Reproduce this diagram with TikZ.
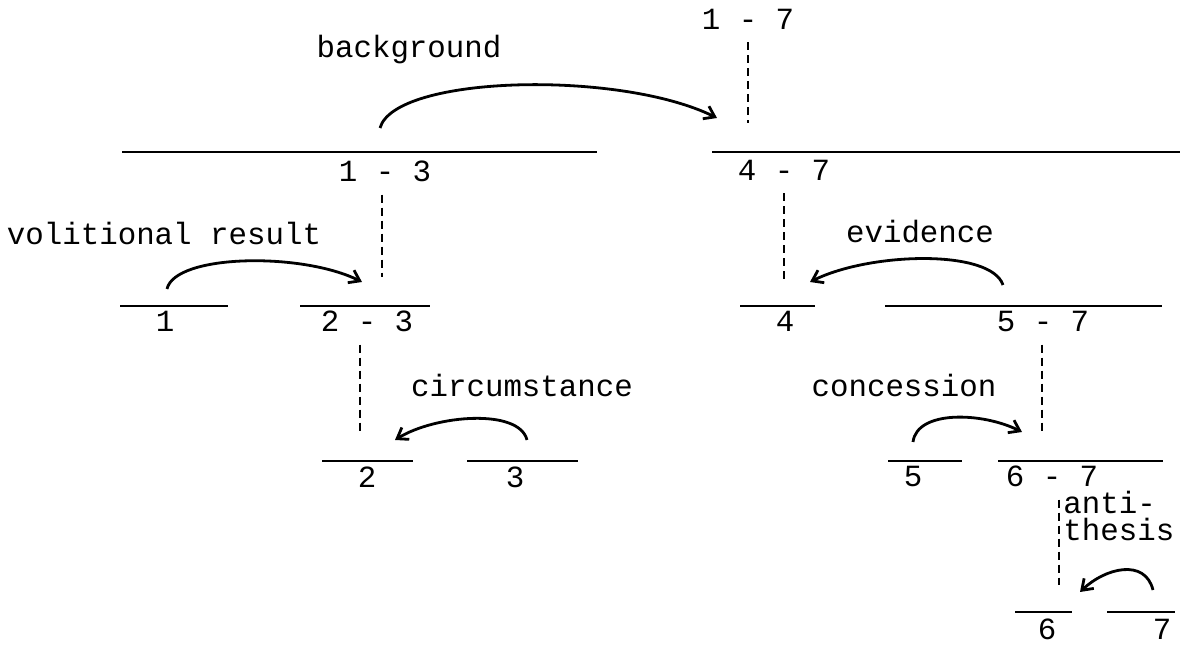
\documentclass[tikz,border=0pt]{standalone}
\usepackage{fontspec}
\setmonofont{Liberation Mono}
\usetikzlibrary{arrows.meta}

\newcommand\rstfont{\fontsize{15.4}{13.5}\selectfont\ttfamily}

\tikzset{
  lbl/.style={font=\rstfont, inner sep=0pt, anchor=base},
  segline/.style={line width=0.7pt},
  nuc/.style={line width=0.9pt, dash pattern=on 4pt off 2.5pt, shorten <=6pt},
  rel/.style={line width=1.4pt, -{Straight Barb[length=5pt,width=7pt]}}
}

\begin{document}
\begin{tikzpicture}[x=0.5pt,y=-0.5pt]
\useasboundingbox (0,0) rectangle (1185,646);

% span lines
\draw[segline] (122,152)--(597,152);
\draw[segline] (712,152)--(1180,152);
\draw[segline] (120,306)--(228,306);
\draw[segline] (300,306)--(430,306);
\draw[segline] (740,306)--(815,306);
\draw[segline] (885,306)--(1162,306);
\draw[segline] (322,461)--(413,461);
\draw[segline] (467,461)--(578,461);
\draw[segline] (888,461)--(962,461);
\draw[segline] (998,461)--(1163,461);
\draw[segline] (1015,612)--(1072,612);
\draw[segline] (1107,612)--(1175,612);

% span labels
\node[lbl] (t17) at (748,30) {1 - 7};
\node[lbl] (t13) at (385,182) {1 - 3};
\node[lbl] (t47) at (784,181) {4 - 7};
\node[lbl] (t1) at (165,332) {1};
\node[lbl] (t23) at (367,332) {2 - 3};
\node[lbl] (t4) at (785,332) {4};
\node[lbl] (t57) at (1043,332) {5 - 7};
\node[lbl] (t2) at (367,488) {2};
\node[lbl] (t3) at (515,488) {3};
\node[lbl] (t5) at (913,487) {5};
\node[lbl] (t67) at (1052,487) {6 - 7};
\node[lbl] (t6) at (1047,640) {6};
\node[lbl] (t7) at (1162,640) {7};

% relation names
\node[lbl] (background) at (409,58) {background};
\node[lbl] (volres) at (164,245) {volitional result};
\node[lbl] (circ) at (522,397) {circumstance};
\node[lbl] (evid) at (920,243) {evidence};
\node[lbl] (conc) at (904,397) {concession};
\node[lbl, anchor=base west, align=left] (anti) at (1063,541) {anti-\\thesis};

% nucleus ends
\coordinate (n17) at (748,123);
\coordinate (n13) at (382,277);
\coordinate (n47) at (784,280);
\coordinate (n23) at (360,433);
\coordinate (n57) at (1042,432);
\coordinate (n67) at (1059,585);

\draw[nuc] (t17.south -| n17) -- (n17);
\draw[nuc] (t13.south -| n13) -- (n13);
\draw[nuc] (t47.south -| n47) -- (n47);
\draw[nuc] (t23.south -| n23) -- (n23);
\draw[nuc] (t57.south -| n57) -- (n57);
\draw[nuc] (t67.south -| n67) -- (n67);

% relation arcs
\coordinate (a13) at (380,128);
\coordinate (b47) at (717,118);
\coordinate (a1) at (167,289);
\coordinate (b23) at (362,282);
\coordinate (a3) at (527,440);
\coordinate (b2) at (395,440);
\coordinate (a57) at (1003,285);
\coordinate (b4) at (810,282);
\coordinate (a5) at (913,442);
\coordinate (b67) at (1022,432);
\coordinate (a7) at (1153,590);
\coordinate (b6) at (1080,592);

\draw[rel] (a13) .. controls +(15,-53) and +(-97,-48) .. (b47);
\draw[rel] (a1) .. controls +(8,-35) and +(-60,-30) .. (b23);
\draw[rel] (a3) .. controls +(-8,-32) and +(40,-25) .. (b2);
\draw[rel] (a57) .. controls +(-12,-36) and +(60,-30) .. (b4);
\draw[rel] (a5) .. controls +(4,-32) and +(-40,-20) .. (b67);
\draw[rel] (a7) .. controls +(-8,-32) and +(25,-24) .. (b6);
\end{tikzpicture}
\end{document}
